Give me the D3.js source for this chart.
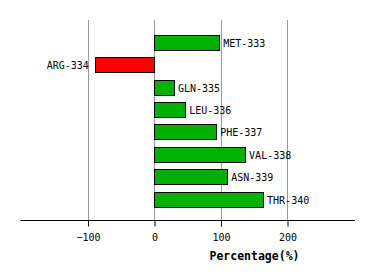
<!DOCTYPE html>
<html><head><meta charset="utf-8">
<script src="https://cdn.jsdelivr.net/npm/d3@7"></script>
<style>body{margin:0;background:#fff}svg{display:block}</style>
</head><body>
<script>
const categories = ["MET-333","ARG-334","GLN-335","LEU-336","PHE-337","VAL-338","ASN-339","THR-340"];
const values = [98, -89, 30, 47, 93.5, 137, 110, 164];
const tickValues = [-100, 0, 100, 200];
const axisTitle = "Percentage(%)";

const W = 374, H = 280;
const svg = d3.select("body").append("svg").attr("width", W).attr("height", H);
const x = d3.scaleLinear().domain([-200, 300]).range([21, 353.5]);
const y = d3.scaleBand().domain(categories).range([31.3, 210.3]).paddingInner(0.33).paddingOuter(0.165);
const font = "'DejaVu Sans Mono', monospace";

// gridlines
svg.append("g").selectAll("line").data(tickValues).join("line")
  .attr("x1", d => Math.round(x(d)) + 0.5).attr("x2", d => Math.round(x(d)) + 0.5)
  .attr("y1", 20).attr("y2", 220)
  .attr("stroke", "#999").attr("stroke-width", 1);

// axis
const axis = d3.axisBottom(x).tickValues(tickValues).tickSize(6).tickSizeOuter(0).tickFormat(d3.format("d"));
const ag = svg.append("g").attr("transform", "translate(0.5,220.5)").call(axis);
ag.select(".domain").attr("stroke", "#000").attr("d", `M${x(-200)-1},0H${x(300)+1}`);
ag.selectAll(".tick line").attr("stroke", "#000");
ag.selectAll(".tick text").attr("font-family", font).attr("font-size", "10px").attr("fill", "#000").attr("y", 13.5).attr("dy", "0.71em");

// bars
svg.append("g").selectAll("rect").data(values).join("rect")
  .attr("x", d => Math.round(x(Math.min(0, d))) + 0.5)
  .attr("y", (d, i) => Math.round(y(categories[i])) + 0.5)
  .attr("width", d => Math.round(Math.abs(x(d) - x(0))))
  .attr("height", Math.round(y.bandwidth()))
  .attr("fill", d => d < 0 ? "#ff0000" : "#00b000")
  .attr("stroke", "#000").attr("stroke-width", 1);

// labels
svg.append("g").selectAll("text").data(values).join("text")
  .attr("x", d => d < 0 ? x(d) - 6 : x(d) + 4)
  .attr("y", (d, i) => y(categories[i]) + y.bandwidth() / 2 + 1)
  .attr("dy", "0.35em")
  .attr("text-anchor", d => d < 0 ? "end" : "start")
  .attr("font-family", font).attr("font-size", "10px").attr("fill", "#000")
  .text((d, i) => categories[i]);

// axis title
svg.append("text").attr("x", 254.5).attr("y", 260)
  .attr("text-anchor", "middle").attr("font-family", font)
  .attr("font-size", "11.5px").attr("font-weight", "bold").attr("fill", "#000")
  .text(axisTitle);
</script>
</body></html>
